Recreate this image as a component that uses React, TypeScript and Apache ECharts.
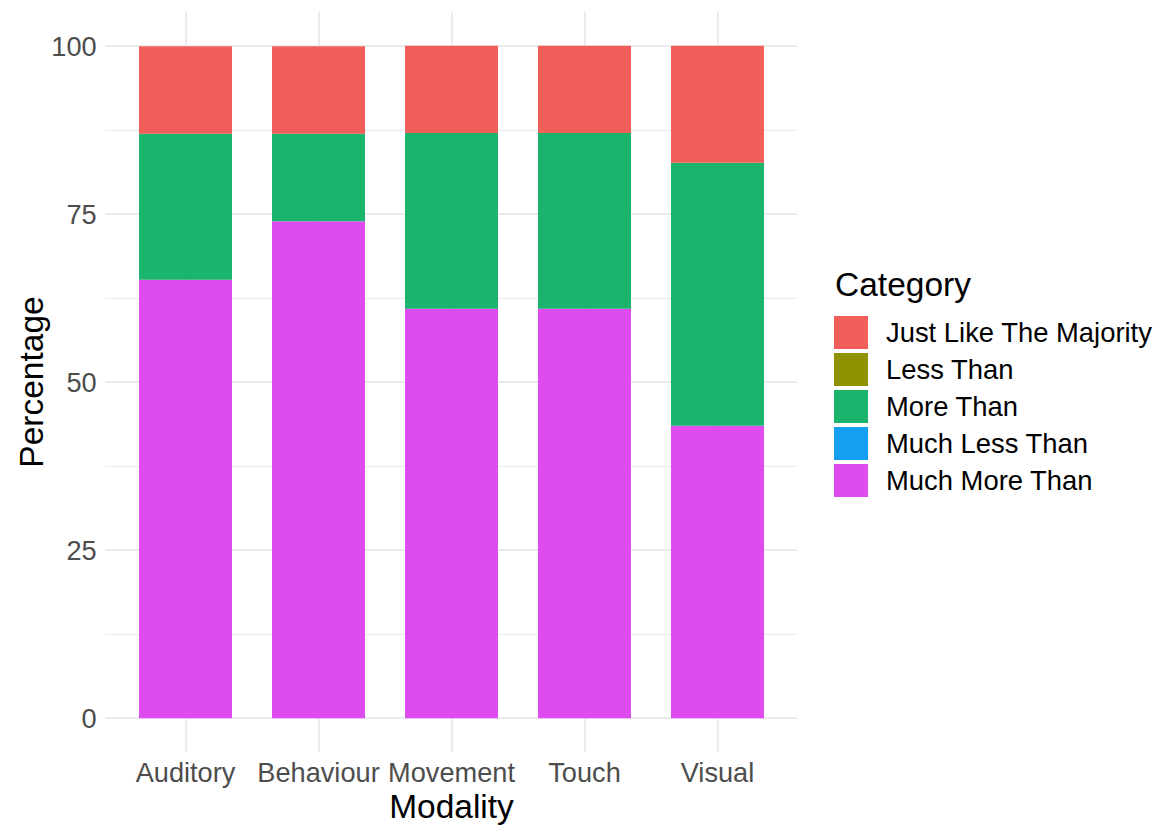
import React, { useEffect, useRef } from "react";
import * as echarts from "echarts";

const modalities = ["Auditory", "Behaviour", "Movement", "Touch", "Visual"];
const legendOrder = ["Just Like The Majority", "Less Than", "More Than", "Much Less Than", "Much More Than"];
const justLikeMajority = [13.0, 13.0, 13.0, 13.0, 17.4];
const lessThan = [0, 0, 0, 0, 0];
const moreThan = [21.7, 13.0, 26.1, 26.1, 39.1];
const muchLessThan = [0, 0, 0, 0, 0];
const muchMoreThan = [65.2, 73.9, 60.9, 60.9, 43.5];
const yTicks = [0, 25, 50, 75, 100];

const colors: Record<string, string> = {
  "Just Like The Majority": "#F25F5B",
  "Less Than": "#8F9300",
  "More Than": "#1BB46C",
  "Much Less Than": "#149FF0",
  "Much More Than": "#DE4BEF",
};

const FONT = "'Liberation Sans', Arial, Helvetica, sans-serif";

export default function App() {
  const ref = useRef<HTMLDivElement>(null);
  useEffect(() => {
    document.body.style.margin = "0";
    if (!ref.current) return;
    const chart = echarts.init(ref.current, null, { renderer: "svg" });
    const stackSeries = [
      { name: "Much More Than", data: muchMoreThan },
      { name: "Much Less Than", data: muchLessThan },
      { name: "More Than", data: moreThan },
      { name: "Less Than", data: lessThan },
      { name: "Just Like The Majority", data: justLikeMajority },
    ];
    chart.setOption({
      animation: false,
      backgroundColor: "#FFFFFF",
      textStyle: { fontFamily: FONT },
      title: {
        text: "Category",
        left: 830,
        top: 262,
        textStyle: { fontSize: 33.5, fontWeight: "normal", color: "#000000", fontFamily: FONT },
      },
      legend: {
        orient: "vertical",
        left: 834,
        top: 316,
        padding: 0,
        itemWidth: 34,
        itemHeight: 33,
        itemGap: 4,
        icon: "rect",
        data: legendOrder,
        selectedMode: false,
        textStyle: { fontSize: 27.4, color: "#000000", fontFamily: FONT, padding: [0, 0, 0, 13] },
      },
      grid: [
        {
          left: 105.7,
          right: 1168 - 797.3,
          top: 46,
          bottom: 825 - 718,
          containLabel: false,
          outerBoundsMode: "none",
        },
        {
          left: 185.5,
          right: 1168 - 717.5,
          top: 12,
          bottom: 73,
          containLabel: false,
          outerBoundsMode: "none",
        },
      ],
      xAxis: [
        { type: "value", gridIndex: 0, min: 0, max: 1, show: false },
        {
          type: "category",
          gridIndex: 1,
          data: modalities,
          boundaryGap: false,
          axisLine: { show: false, onZero: false },
          axisTick: { show: false },
          axisLabel: { fontSize: 27.2, color: "#4D4D4D", margin: 7, interval: 0, fontFamily: FONT },
          splitLine: { show: true, interval: 0, lineStyle: { color: "#EBEBEB", width: 2 } },
          name: "Modality",
          nameLocation: "middle",
          nameGap: 37,
          nameMoveOverlap: false,
          nameTextStyle: { fontSize: 33.5, color: "#000000", fontFamily: FONT },
        },
      ],
      yAxis: [
        {
          type: "value",
          gridIndex: 0,
          min: yTicks[0],
          max: yTicks[yTicks.length - 1],
          interval: 25,
          axisLine: { show: false },
          axisTick: { show: false },
          axisLabel: { fontSize: 27.2, color: "#4D4D4D", margin: 9, fontFamily: FONT },
          splitLine: { show: true, lineStyle: { color: "#EBEBEB", width: 2 } },
          minorTick: { show: false, splitNumber: 2 },
          minorSplitLine: { show: true, lineStyle: { color: "#EBEBEB", width: 1 } },
          name: "Percentage",
          nameLocation: "middle",
          nameGap: 57,
          nameRotate: 90,
          nameMoveOverlap: false,
          nameTextStyle: { fontSize: 33.5, color: "#000000", fontFamily: FONT },
        },
        {
          type: "value",
          gridIndex: 1,
          min: -5,
          max: 105,
          interval: 5,
          show: false,
          splitLine: { show: false },
        },
      ],
      series: stackSeries.map((s) => ({
        name: s.name,
        type: "bar",
        stack: "total",
        xAxisIndex: 1,
        yAxisIndex: 1,
        barWidth: 93,
        clip: false,
        data: s.data,
        itemStyle: { color: colors[s.name] },
        emphasis: { disabled: true },
      })),
    });
    return () => chart.dispose();
  }, []);
  return <div ref={ref} style={{ width: 1168, height: 825 }} />;
}
